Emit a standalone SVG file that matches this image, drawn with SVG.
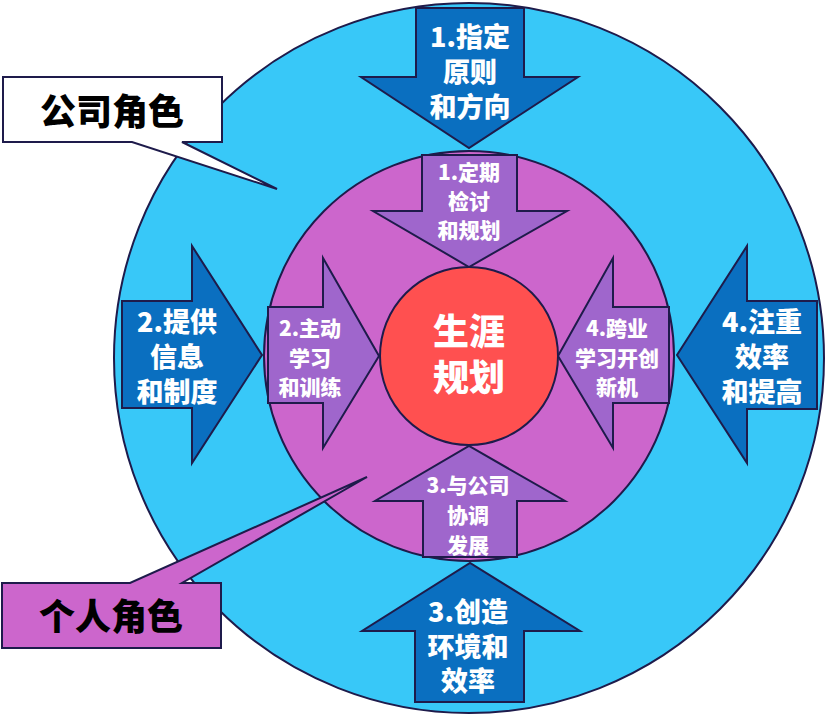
<svg xmlns="http://www.w3.org/2000/svg" width="832" height="714" viewBox="0 0 832 714">
<style>
.ln{stroke:#1e1b4b;stroke-width:2;stroke-linejoin:miter}
.cy{fill:#38c8f8}
.oa{fill:#0a6fc0}
.pc{fill:#cc66cc}
.ia{fill:#9f66cc}
.rc{fill:#ff5050}
.t{font-family:"Noto Sans CJK SC","Noto Sans",sans-serif;font-weight:900;fill:#fff;text-anchor:middle}
.to{font-size:27px}
.ti{font-size:21px}
.tc{font-size:36px}
.tb{font-family:"Noto Sans CJK SC","Noto Sans",sans-serif;font-weight:900;fill:#000;text-anchor:middle;font-size:36px}
</style>
<g id="outer-circle"><circle class="cy ln" cx="469" cy="358" r="355"/></g>
<g id="outer-arrow-top">
<polygon class="oa ln" points="416,8 524,8 524,77 578,77 469,148 361,77 416,77"/>
<text class="t to"><tspan x="470" y="47">1.指定</tspan><tspan x="470" y="82">原则</tspan><tspan x="470" y="117">和方向</tspan></text>
</g>
<g id="outer-arrow-left">
<polygon class="oa ln" points="122,301 192,301 192,246 262,355 192,463 192,408 122,408"/>
<text class="t to"><tspan x="177" y="332">2.提供</tspan><tspan x="177" y="367">信息</tspan><tspan x="177" y="402">和制度</tspan></text>
</g>
<g id="outer-arrow-right">
<polygon class="oa ln" points="817,301 747,301 747,246 677,355 747,463 747,409 817,409"/>
<text class="t to"><tspan x="762" y="332">4.注重</tspan><tspan x="762" y="367">效率</tspan><tspan x="762" y="402">和提高</tspan></text>
</g>
<g id="outer-arrow-bottom">
<polygon class="oa ln" points="415,702 524,702 524,631 580,631 470,563 362,631 415,631"/>
<text class="t to"><tspan x="468" y="622">3.创造</tspan><tspan x="468" y="657">环境和</tspan><tspan x="468" y="691">效率</tspan></text>
</g>
<g id="inner-circle"><circle class="pc ln" cx="469" cy="356" r="205"/></g>
<g id="inner-arrow-top">
<polygon class="ia ln" points="422,155 517,155 517,211 567,211 469,267 373,211 422,211"/>
<text class="t ti"><tspan x="469" y="180">1.定期</tspan><tspan x="469" y="209">检讨</tspan><tspan x="469" y="238">和规划</tspan></text>
</g>
<g id="inner-arrow-left">
<polygon class="ia ln" points="268,307 323,307 323,258 379,356 323,448 323,403 268,403"/>
<text class="t ti"><tspan x="310" y="336">2.主动</tspan><tspan x="310" y="366">学习</tspan><tspan x="310" y="395">和训练</tspan></text>
</g>
<g id="inner-arrow-right">
<polygon class="ia ln" points="669,307 613,307 613,258 558,356 613,448 613,403 669,403"/>
<text class="t ti"><tspan x="617" y="336">4.跨业</tspan><tspan x="617" y="366">学习开创</tspan><tspan x="617" y="395">新机</tspan></text>
</g>
<g id="inner-arrow-bottom">
<polygon class="ia ln" points="423,557 517,557 517,501 565,501 469,446 375,501 423,501"/>
<text class="t ti"><tspan x="468" y="493">3.与公司</tspan><tspan x="468" y="523">协调</tspan><tspan x="468" y="553">发展</tspan></text>
</g>
<g id="center">
<circle class="rc ln" cx="469" cy="356" r="89"/>
<text class="t tc"><tspan x="469" y="345">生涯</tspan><tspan x="469" y="391">规划</tspan></text>
</g>
<g id="callout-company">
<path class="ln" fill="#fff" d="M3,77 H222 V142 H182 L277,189 L132,142 H3 Z"/>
<text class="tb" x="112" y="125">公司角色</text>
</g>
<g id="callout-personal">
<path class="ln pc" d="M2,583 H130 L367,477 L182,583 H221 V648 H2 Z"/>
<text class="tb" x="111" y="630">个人角色</text>
</g>
</svg>
